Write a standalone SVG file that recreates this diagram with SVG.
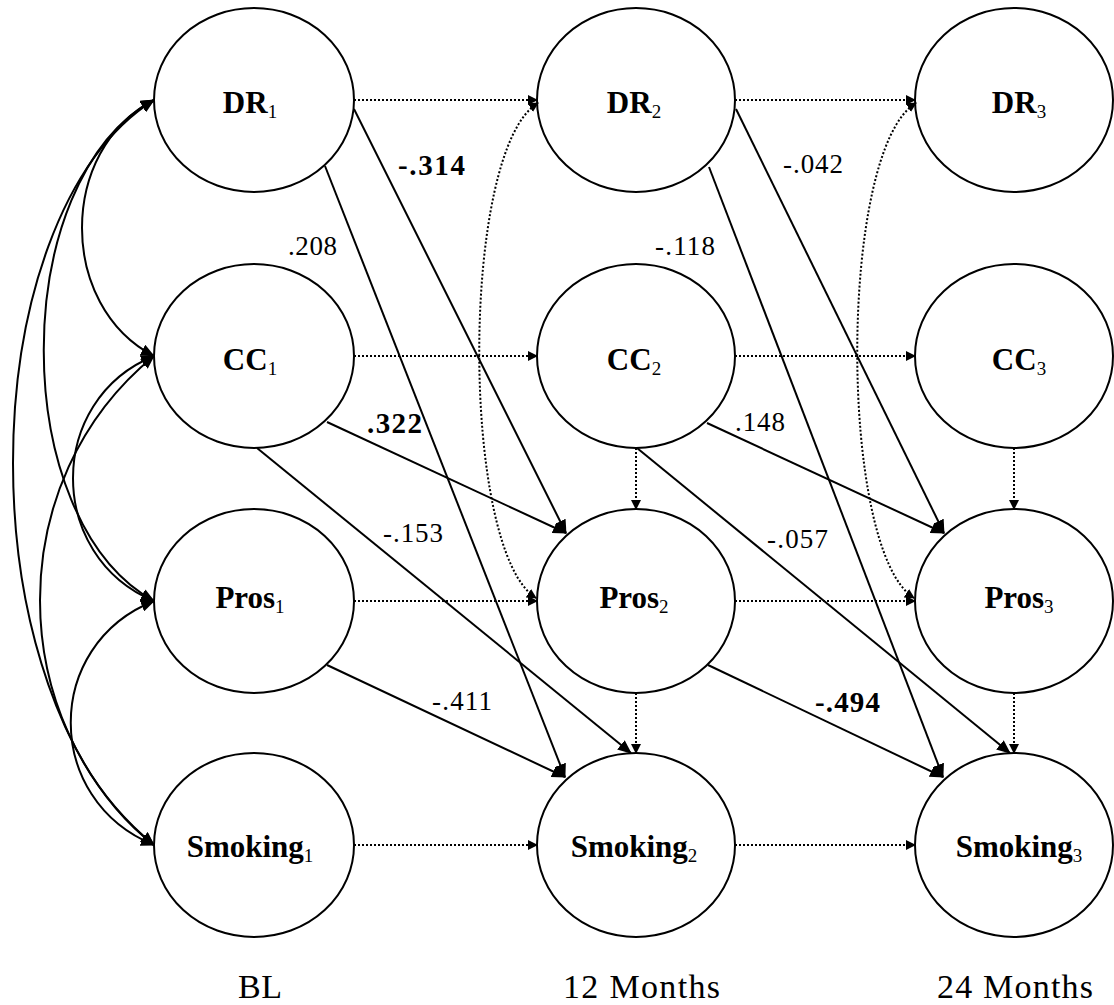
<svg xmlns="http://www.w3.org/2000/svg" width="1114" height="1005" viewBox="0 0 1114 1005">
  <style>
    .node ellipse { fill: #fff; stroke: #000; stroke-width: 2; }
    .lbl { font-family: "Liberation Serif", "Times New Roman", serif; font-weight: bold; font-size: 31px; text-anchor: middle; fill: #000; }
    .sub { font-size: 19px; font-weight: normal; }
    .coef { font-family: "Liberation Serif", "Times New Roman", serif; font-size: 27px; fill: #000; }
    .coef.b { font-weight: bold; font-size: 29px; }
    .time { font-family: "Liberation Serif", "Times New Roman", serif; font-size: 34px; fill: #000; }
    .solid { fill: none; stroke: #000; stroke-width: 2; marker-end: url(#ah); }
    .cov { fill: none; stroke: #000; stroke-width: 2; marker-start: url(#ah); marker-end: url(#ah); }
    .dot { fill: none; stroke: #000; stroke-width: 2; stroke-dasharray: 2 2; marker-end: url(#ahd); }
    .dotcov { fill: none; stroke: #000; stroke-width: 2; stroke-dasharray: 2 2; marker-start: url(#ahd); marker-end: url(#ahd); }
  </style>
  <defs>
    <marker id="ah" markerUnits="userSpaceOnUse" viewBox="0 0 14 12" markerWidth="14" markerHeight="12" refX="13" refY="6" orient="auto-start-reverse">
      <path d="M0,0 L14,6 L0,12 z" fill="#000"/>
    </marker>
    <marker id="ahd" markerUnits="userSpaceOnUse" viewBox="0 0 10 10" markerWidth="10" markerHeight="10" refX="9" refY="5" orient="auto-start-reverse">
      <path d="M0,0 L10,5 L0,10 z" fill="#000"/>
    </marker>
  </defs>
  <rect width="1114" height="1005" fill="#fff"/>

  <!-- Baseline column -->
  <g id="DR1" class="node"><ellipse cx="254" cy="100" rx="100" ry="92"/><text class="lbl" x="250" y="113">DR<tspan class="sub" dy="5">1</tspan></text></g>
  <g id="CC1" class="node"><ellipse cx="254" cy="356" rx="100" ry="92"/><text class="lbl" x="250" y="370">CC<tspan class="sub" dy="5">1</tspan></text></g>
  <g id="Pros1" class="node"><ellipse cx="254" cy="601" rx="100" ry="92"/><text class="lbl" x="250" y="608">Pros<tspan class="sub" dy="5">1</tspan></text></g>
  <g id="Smoking1" class="node"><ellipse cx="254" cy="845" rx="100" ry="92"/><text class="lbl" x="250" y="857">Smoking<tspan class="sub" dy="5">1</tspan></text></g>

  <!-- 12-month column -->
  <g id="DR2" class="node"><ellipse cx="636" cy="100" rx="99" ry="92"/><text class="lbl" x="634" y="113">DR<tspan class="sub" dy="5">2</tspan></text></g>
  <g id="CC2" class="node"><ellipse cx="636" cy="356" rx="99" ry="92"/><text class="lbl" x="634" y="370">CC<tspan class="sub" dy="5">2</tspan></text></g>
  <g id="Pros2" class="node"><ellipse cx="636" cy="601" rx="99" ry="92"/><text class="lbl" x="634" y="608">Pros<tspan class="sub" dy="5">2</tspan></text></g>
  <g id="Smoking2" class="node"><ellipse cx="636" cy="845" rx="99" ry="92"/><text class="lbl" x="634" y="857">Smoking<tspan class="sub" dy="5">2</tspan></text></g>

  <!-- 24-month column -->
  <g id="DR3" class="node"><ellipse cx="1014" cy="100" rx="99" ry="92"/><text class="lbl" x="1019" y="113">DR<tspan class="sub" dy="5">3</tspan></text></g>
  <g id="CC3" class="node"><ellipse cx="1014" cy="356" rx="99" ry="92"/><text class="lbl" x="1019" y="370">CC<tspan class="sub" dy="5">3</tspan></text></g>
  <g id="Pros3" class="node"><ellipse cx="1014" cy="601" rx="99" ry="92"/><text class="lbl" x="1019" y="608">Pros<tspan class="sub" dy="5">3</tspan></text></g>
  <g id="Smoking3" class="node"><ellipse cx="1014" cy="845" rx="99" ry="92"/><text class="lbl" x="1019" y="857">Smoking<tspan class="sub" dy="5">3</tspan></text></g>

  <g id="connectors">
    <!-- baseline correlations -->
    <path class="cov" d="M154,100 C58,150 58,306 154,356"/>
    <path class="cov" d="M154,100 C7,180 7,520 154,601"/>
    <path class="cov" d="M154,100 C-34,220 -34,700 154,845"/>
    <path class="cov" d="M154,356 C46,400 46,556 154,601"/>
    <path class="cov" d="M154,356 C2,480 2,720 154,845"/>
    <path class="cov" d="M154,601 C43,645 43,800 154,845"/>

    <!-- stability paths -->
    <line class="dot" x1="354" y1="100" x2="537" y2="100"/>
    <line class="dot" x1="354" y1="356" x2="537" y2="356"/>
    <line class="dot" x1="354" y1="601" x2="537" y2="601"/>
    <line class="dot" x1="354" y1="845" x2="537" y2="845"/>
    <line class="dot" x1="735" y1="100" x2="915" y2="100"/>
    <line class="dot" x1="735" y1="356" x2="915" y2="356"/>
    <line class="dot" x1="735" y1="601" x2="915" y2="601"/>
    <line class="dot" x1="735" y1="845" x2="915" y2="845"/>

    <!-- within-time paths -->
    <line class="dot" x1="636" y1="448" x2="636" y2="509"/>
    <line class="dot" x1="636" y1="693" x2="636" y2="753"/>
    <line class="dot" x1="1014" y1="448" x2="1014" y2="509"/>
    <line class="dot" x1="1014" y1="693" x2="1014" y2="753"/>

    <!-- within-time correlations -->
    <path class="dotcov" d="M538,103 C460,150 460,550 536,598"/>
    <path class="dotcov" d="M916,103 C838,150 838,550 914,598"/>

    <!-- cross-lagged paths -->
    <line class="solid" x1="354" y1="109" x2="566" y2="533"/>
    <line class="solid" x1="325" y1="166" x2="565" y2="777"/>
    <line class="solid" x1="327" y1="422" x2="566" y2="533"/>
    <line class="solid" x1="257" y1="448" x2="631" y2="753"/>
    <line class="solid" x1="327" y1="665" x2="565" y2="777"/>
    <line class="solid" x1="736" y1="109" x2="944" y2="533"/>
    <line class="solid" x1="709" y1="167" x2="943" y2="777"/>
    <line class="solid" x1="707" y1="423" x2="944" y2="533"/>
    <line class="solid" x1="637" y1="448" x2="1010" y2="753"/>
    <line class="solid" x1="708" y1="665" x2="943" y2="777"/>
  </g>

  <g id="coefficients">
    <text class="coef" x="288" y="255" textLength="49">.208</text>
    <text class="coef b" x="398" y="175" textLength="67">-.314</text>
    <text class="coef" x="655" y="255" textLength="60">-.118</text>
    <text class="coef" x="783" y="173" textLength="60">-.042</text>
    <text class="coef b" x="367" y="433" textLength="55">.322</text>
    <text class="coef" x="735" y="431" textLength="50">.148</text>
    <text class="coef" x="383" y="542" textLength="60">-.153</text>
    <text class="coef" x="767" y="548" textLength="61">-.057</text>
    <text class="coef" x="432" y="710" textLength="60">-.411</text>
    <text class="coef b" x="815" y="712" textLength="65">-.494</text>
  </g>

  <g id="time-labels">
    <text class="time" x="238" y="998" textLength="44">BL</text>
    <text class="time" x="563" y="998" textLength="157">12 Months</text>
    <text class="time" x="937" y="998" textLength="156">24 Months</text>
  </g>
</svg>
